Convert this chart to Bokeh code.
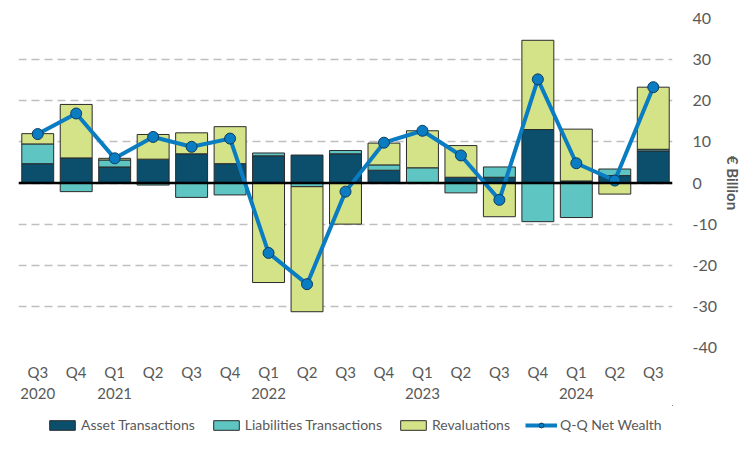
from bokeh.plotting import figure
from bokeh.layouts import column
from bokeh.models import Range1d, FixedTicker, Span, Legend, LegendItem, ColumnDataSource
from bokeh.embed import file_html
from bokeh.resources import INLINE

quarters = ["Q3\n2020", "Q4", "Q1\n2021", "Q2", "Q3", "Q4", "Q1\n2022", "Q2", "Q3",
            "Q4", "Q1\n2023", "Q2", "Q3", "Q4", "Q1\n2024", "Q2", "Q3"]
asset = [4.7, 6.1, 3.9, 5.8, 7.1, 4.7, 6.6, 6.8, 7.1, 3.1, 0.0, 1.4, 1.4, 13.0, 0.5, 1.8, 7.8]
liab = [4.8, -2.1, 1.7, -0.5, -3.5, -2.9, 0.7, -0.9, 0.8, 1.3, 3.7, -2.4, 2.5, -9.4, -8.4, 1.6, 0.4]
reval = [2.5, 13.0, 0.4, 6.0, 5.1, 9.0, -24.2, -30.4, -10.0, 5.3, 9.0, 7.7, -8.2, 21.7, 12.6, -2.7, 15.1]
net = [11.9, 16.9, 6.0, 11.2, 8.8, 10.8, -17.0, -24.6, -2.1, 9.8, 12.7, 6.7, -4.1, 25.2, 4.8, 0.6, 23.3]
y_ticks = [-40, -30, -20, -10, 0, 10, 20, 30, 40]
y_labels = ["-40", "-30", "-20", "-10", "0", "10", "20", "30", "40"]

series = [("Asset Transactions", asset, "#0B4F6C"),
          ("Liabilities Transactions", liab, "#5EC5C2"),
          ("Revaluations", reval, "#D5E388")]
LINE_COLOR = "#0A7CC2"
BAR_EDGE = "#2B2B2B"

x = list(range(len(quarters)))

p = figure(width=748, height=405, output_backend="svg", toolbar_location=None,
           x_range=Range1d(-0.5, len(quarters) - 0.5), y_range=Range1d(-40, 40),
           y_axis_location="right", min_border_left=18, min_border_top=18,
           min_border_right=76, min_border_bottom=49)
p.outline_line_color = None
p.background_fill_color = "white"
p.xgrid.grid_line_color = None
p.ygrid.grid_line_color = "#BFBFBF"
p.ygrid.grid_line_dash = "8 5"
p.ygrid.grid_line_width = 1.5
p.ygrid.ticker = FixedTicker(ticks=y_ticks)

pos = [0.0] * len(x)
neg = [0.0] * len(x)
for name, vals, col in series:
    bottoms, tops = [], []
    for i, v in enumerate(vals):
        if v >= 0:
            bottoms.append(pos[i]); tops.append(pos[i] + v); pos[i] += v
        else:
            tops.append(neg[i]); bottoms.append(neg[i] + v); neg[i] += v
    src = ColumnDataSource(dict(x=x, bottom=bottoms, top=tops))
    p.vbar(x="x", bottom="bottom", top="top", width=0.83, source=src,
           fill_color=col, line_color=BAR_EDGE, line_width=1)

zero = Span(location=0, dimension="width", line_color="black", line_width=2.5)
p.add_layout(zero)

nsrc = ColumnDataSource(dict(x=x, y=net))
p.line("x", "y", source=nsrc, line_color=LINE_COLOR, line_width=4)
p.scatter("x", "y", source=nsrc, size=11, fill_color=LINE_COLOR, line_color="#0D3D5E", line_width=1)

p.xaxis.ticker = FixedTicker(ticks=x)
p.xaxis.major_label_overrides = {i: q for i, q in enumerate(quarters)}
p.yaxis.ticker = FixedTicker(ticks=y_ticks)
p.yaxis.major_label_overrides = {t: l for t, l in zip(y_ticks, y_labels)}
for ax in (p.xaxis[0], p.yaxis[0]):
    ax.axis_line_color = None
    ax.major_tick_line_color = None
    ax.minor_tick_line_color = None
    ax.major_label_text_font = "Lato"
    ax.major_label_text_color = "#595959"
p.xaxis.major_label_text_font_size = "15px"
p.xaxis.major_label_standoff = 9
p.yaxis.major_label_text_font_size = "16px"
p.yaxis.major_label_standoff = 14
p.yaxis.axis_label = "€ Billion"
p.yaxis.axis_label_text_font = "Lato"
p.yaxis.axis_label_text_font_style = "bold"
p.yaxis.axis_label_text_font_size = "15px"
p.yaxis.axis_label_text_color = "#595959"
p.yaxis.axis_label_standoff = 4

# legend strip below the chart (legend-only renderers sit outside its ranges)
lf = figure(width=748, height=40, output_backend="svg", toolbar_location=None,
            x_range=Range1d(0, 1), y_range=Range1d(0, 1), min_border=0)
lf.axis.visible = False
lf.grid.visible = False
lf.outline_line_color = None
items = []
for name, vals, col in series:
    r = lf.vbar(x=[10], bottom=[9], top=[10], width=0.5, fill_color=col,
                line_color=BAR_EDGE, line_width=1)
    items.append(LegendItem(label=name, renderers=[r]))
rl = lf.line(x=[10, 11], y=[10, 10], line_color=LINE_COLOR, line_width=4)
rc = lf.scatter(x=[10], y=[10], size=9, fill_color=LINE_COLOR, line_color="#0D3D5E", line_width=1)
items.append(LegendItem(label="Q-Q Net Wealth", renderers=[rl, rc]))
legend = Legend(items=items, orientation="horizontal", location=(28, 12),
                label_text_font="Lato", label_text_font_size="14px",
                label_text_color="#595959", glyph_width=32, glyph_height=12,
                spacing=15, label_standoff=3, padding=0, margin=0,
                border_line_color=None, background_fill_alpha=0)
lf.add_layout(legend, "center")

open("out.html", "w").write(file_html(column(p, lf), INLINE))
